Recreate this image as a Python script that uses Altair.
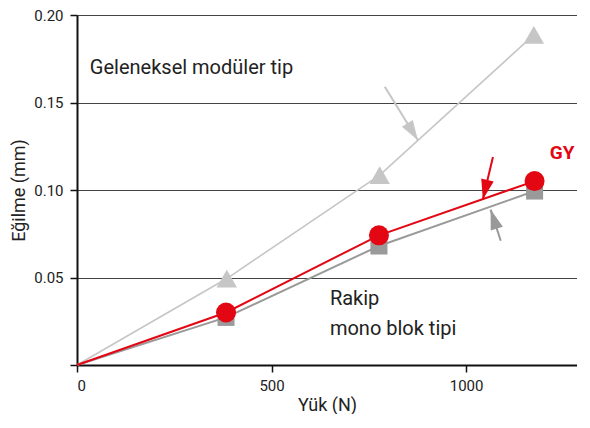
import math
import altair as alt
import pandas as pd

# ---- data ----
load_trad = [0, 385, 778, 1174]
defl_trad = [0, 0.0494, 0.1085, 0.1886]

load_gy = [0, 383, 776, 1176]
defl_gy = [0, 0.0300, 0.0741, 0.1051]

load_rival = [0, 383, 776, 1176]
defl_rival = [0, 0.0272, 0.0680, 0.0994]

# annotation texts
txt_labels = ["Geleneksel modüler tip", "Rakip", "mono blok tipi"]
txt_x = [33, 650, 650]
txt_y = [0.1696, 0.0378, 0.0207]

gy_label = ["GY"]
gy_x = [1215]
gy_y = [0.121]

# arrows: tail -> tip (data coords)
arrow_names = ["trad", "gy", "rival"]
arrow_x0 = [791, 1069, 1089]
arrow_y0 = [0.159, 0.1188, 0.071]
arrow_x1 = [876, 1043, 1063]
arrow_y1 = [0.1284, 0.0946, 0.0888]
arrow_colors = ["#c6c6c6", "#e30613", "#999999"]

XMAX = 1285
W, H = 500, 350
px_x = W / XMAX
px_y = H / 0.2

xs = alt.Scale(domain=[0, XMAX], nice=False, zero=True)
ys = alt.Scale(domain=[0, 0.2], nice=False)

def series(xv, yv):
    return pd.DataFrame({"x": xv, "y": yv})

df_trad = series(load_trad, defl_trad)
df_gy = series(load_gy, defl_gy)
df_rival = series(load_rival, defl_rival)

X = alt.X("x:Q", scale=xs, axis=alt.Axis(values=[0, 500, 1000], title="Yük (N)",
                                        grid=False, format="d"))
Y = alt.Y("y:Q", scale=ys, axis=alt.Axis(values=[0, 0.05, 0.10, 0.15, 0.20],
                                        title="Eğilme (mm)", grid=True,
                                        labelExpr="datum.value == 0 ? '' : format(datum.value, '.2f')"))

base_axes = alt.Chart(df_trad).mark_line(color="#c6c6c6", strokeWidth=1.6).encode(x=X, y=Y)

line_rival = alt.Chart(df_rival).mark_line(color="#9a9a9a", strokeWidth=2).encode(x="x:Q", y="y:Q")
line_gy = alt.Chart(df_gy).mark_line(color="#e30613", strokeWidth=2).encode(x="x:Q", y="y:Q")

pts_trad = alt.Chart(df_trad[df_trad.x > 0]).mark_point(
    shape="triangle-up", filled=True, color="#c6c6c6", size=420, opacity=1
).encode(x="x:Q", y="y:Q")
pts_rival = alt.Chart(df_rival[df_rival.x > 0]).mark_point(
    shape="square", filled=True, color="#9a9a9a", size=290, opacity=1
).encode(x="x:Q", y="y:Q")
pts_gy = alt.Chart(df_gy[df_gy.x > 0]).mark_point(
    shape="circle", filled=True, color="#e30613", size=400, opacity=1
).encode(x="x:Q", y="y:Q")

# arrows
arrows = pd.DataFrame({"name": arrow_names, "x0": arrow_x0, "y0": arrow_y0,
                       "x1": arrow_x1, "y1": arrow_y1, "color": arrow_colors})
angles = []
for a, b, c, d in zip(arrow_x0, arrow_y0, arrow_x1, arrow_y1):
    dx = (c - a) * px_x
    dy = -(d - b) * px_y
    ang = math.degrees(math.atan2(dx, -dy)) % 360
    angles.append(ang)
arrows["angle"] = angles

shafts = alt.Chart(arrows).mark_rule(strokeWidth=2).encode(
    x="x0:Q", y="y0:Q", x2="x1:Q", y2="y1:Q",
    color=alt.Color("color:N", scale=None))
heads = alt.Chart(arrows).mark_point(
    shape="M0,0L-0.32,1L0.32,1Z", filled=True, size=1600, opacity=1
).encode(x="x1:Q", y="y1:Q", angle=alt.Angle("angle:Q", scale=None),
         color=alt.Color("color:N", scale=None))

texts = alt.Chart(pd.DataFrame({"t": txt_labels, "x": txt_x, "y": txt_y})).mark_text(
    align="left", baseline="middle", font="Roboto", fontSize=20, color="#222222"
).encode(x="x:Q", y="y:Q", text="t:N")

gy_text = alt.Chart(pd.DataFrame({"t": gy_label, "x": gy_x, "y": gy_y})).mark_text(
    align="left", baseline="middle", font="Roboto", fontSize=19, fontWeight="bold",
    color="#e30613"
).encode(x="x:Q", y="y:Q", text="t:N")

chart = alt.layer(
    base_axes, line_rival, line_gy, pts_trad, pts_rival, pts_gy,
    shafts, heads, texts, gy_text
).properties(
    width=W, height=H, padding={"left": 2, "top": 0, "right": 0, "bottom": 0}
).configure_view(stroke=None).configure_axis(
    domainColor="#111111", domainWidth=2, tickColor="#111111", tickWidth=1.5,
    tickSize=7, labelFont="Roboto", labelFontSize=15, labelColor="#222222",
    titleFont="Roboto", titleFontSize=18, titleFontWeight="normal",
    titleColor="#222222", gridColor="#444444", gridWidth=1
).configure_axisY(titlePadding=5, labelPadding=7).configure_axisX(titlePadding=3, labelPadding=6)

chart.save("out.html", embed_options={"renderer": "svg", "actions": False})
